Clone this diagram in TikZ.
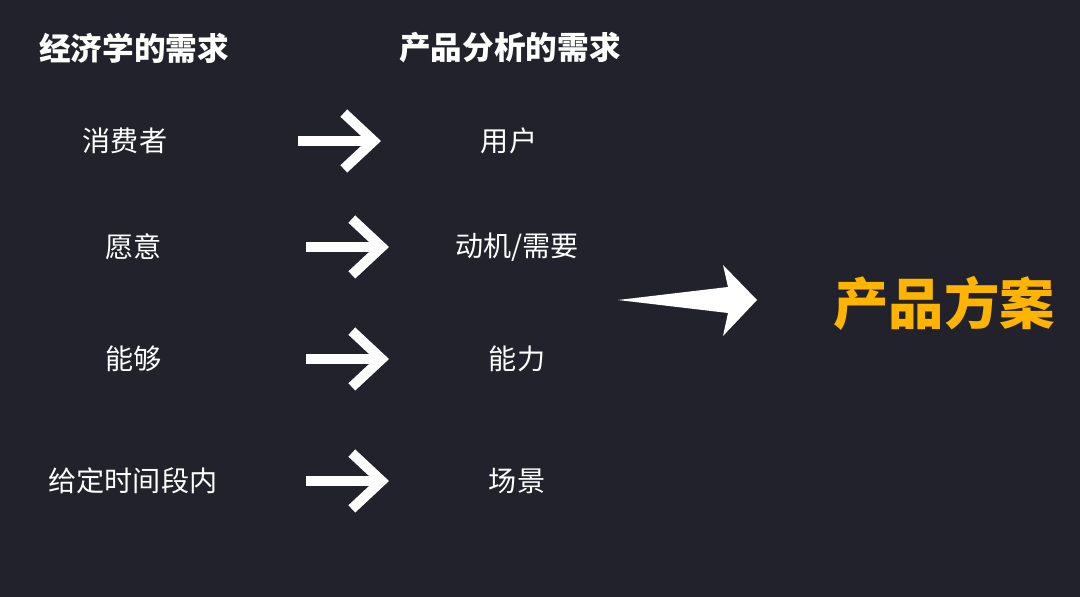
\documentclass[tikz,border=0pt]{standalone}
\usepackage{fontspec}
\setmainfont{Noto Sans CJK SC}
\usetikzlibrary{arrows.meta}
\definecolor{bg}{RGB}{33,34,43}
\definecolor{gold}{RGB}{255,180,0}
\tikzset{
  title/.style={text=white,font=\fontsize{18}{20}\selectfont\bfseries},
  item/.style={text=white,font=\fontsize{16}{18}\selectfont},
  goal/.style={text=gold,font=\fontsize{31.5}{34}\selectfont\bfseries},
  pointer/.style={white,line width=10*0.567pt,-{Straight Barb[length=30*0.567pt,width=56*0.567pt,line width=10*0.567pt]}}
}
\begin{document}
\begin{tikzpicture}[x=0.02cm,y=-0.02cm]
                \fill[bg] (0,0) rectangle (1080,597);
                \useasboundingbox (0,0) rectangle (1080,597);

                \node[title] (econ) at (134,48) {经济学的需求};
                \node[title] (prod) at (510,48) {产品分析的需求};

                \node[item] (consumer) at (125,141) {消费者};
                \node[item] (willing) at (134,247) {愿意};
                \node[item] (able) at (134,359) {能够};
                \node[item] (period) at (133,481) {给定时间段内};

                \node[item] (user) at (509,141) {用户};
                \node[item] (motive) at (517,247) {动机/需要};
                \node[item] (ability) at (517,359) {能力};
                \node[item] (scene) at (517,481) {场景};

                \node[goal] (plan) at (944,303) {产品方案};

                \coordinate (a1) at (298,141); \coordinate (b1) at (381,141);
                \coordinate (a2) at (306,247); \coordinate (b2) at (389,247);
                \coordinate (a3) at (306,359); \coordinate (b3) at (389,359);
                \coordinate (a4) at (306,481); \coordinate (b4) at (389,481);
                \coordinate (tail) at (618,300);
                \coordinate (tip) at (757,300);

                \draw[pointer] (a1) -- (b1);
                \draw[pointer] (a2) -- (b2);
                \draw[pointer] (a3) -- (b3);
                \draw[pointer] (a4) -- (b4);

                % big arrow towards the plan
                \fill[white] (tail) -- (728,287) -- (723,265) -- (tip) -- (723,336) -- (728,313) -- cycle;
            \end{tikzpicture}
\end{document}
